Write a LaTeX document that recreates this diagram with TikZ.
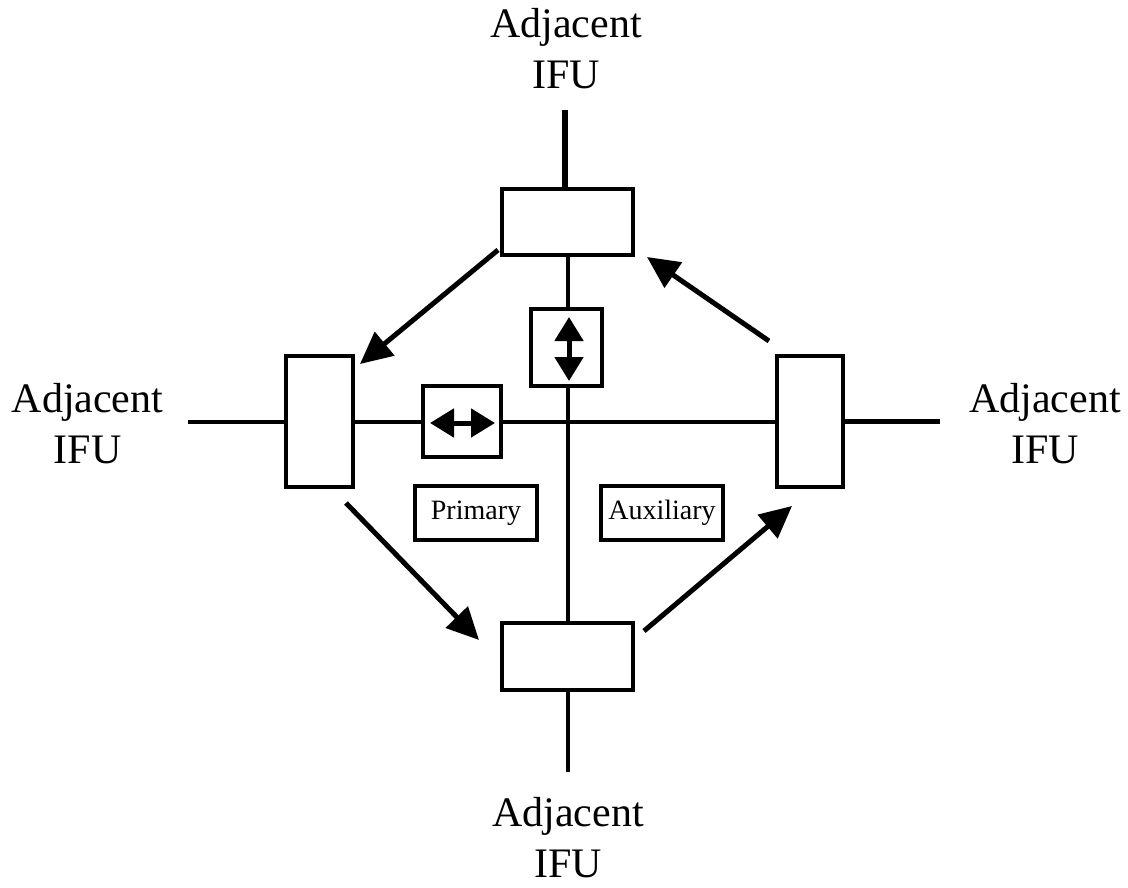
\documentclass[tikz,border=0pt]{standalone}
\usepackage{fontspec}
\setmainfont{Liberation Serif}
\usetikzlibrary{arrows.meta}
\begin{document}
\begin{tikzpicture}[x=1pt,y=-1pt,
  unitbox/.style={draw,line width=4pt,fill=white,inner sep=0pt},
  biglabel/.style={align=center,inner sep=0pt,font=\fontsize{42}{51}\selectfont},
  tag/.style={draw,line width=3.5pt,inner sep=0pt,minimum width=122pt,minimum height=54pt,
    font=\fontsize{28}{34}\selectfont},
  link/.style={line width=4pt},
  stub/.style={line width=5.5pt},
  flow/.style={line width=5pt,-{Triangle[length=32pt,width=30pt]}},
  swap/.style={line width=5pt,{Triangle[length=24pt,width=28pt]}-{Triangle[length=24pt,width=28pt]}}]
\useasboundingbox (0,0) rectangle (1128,888);

% switching units
\node[unitbox,minimum width=131pt,minimum height=66pt] (top) at (567.5,222) {};
\node[unitbox,minimum width=131pt,minimum height=67pt] (bot) at (567.5,656.5) {};
\node[unitbox,minimum width=67pt,minimum height=131pt] (lft) at (319.5,421.5) {};
\node[unitbox,minimum width=66pt,minimum height=131pt] (rgt) at (810,421.5) {};

% crossover boxes
\node[unitbox,minimum width=71pt,minimum height=77pt] (vx) at (566.5,347.5) {};
\node[unitbox,minimum width=78pt,minimum height=71pt] (hx) at (462,421.5) {};

% ring labels
\node[tag] (prim) at (476,513) {Primary};
\node[tag] (aux) at (662,513) {Auxiliary};

% outer stubs
\coordinate (tN) at (565,110);
\coordinate (bS) at (568,772);
\coordinate (lW) at (188,421.5);
\coordinate (rE) at (940,421.5);
\draw[stub] (tN) -- (top.north -| tN);
\draw[link] (bot.south -| bS) -- (bS);
\draw[link] (lW) -- (lft.west);
\draw[stub] (rgt.east) -- (rE);

% inner links
\draw[link] (top.south) -- (vx.north -| top.south);
\draw[link] (vx.south -| bot.north) -- (bot.north);
\draw[link] (lft.east) -- (hx.west);
\draw[link] (hx.east) -- (rgt.west);

% crossover arrows
\coordinate (vxa) at (569,317);
\coordinate (vxb) at (569,381);
\coordinate (hxa) at (430,423);
\coordinate (hxb) at (495,423);
\draw[swap] (vxa) -- (vxb);
\draw[swap] (hxa) -- (hxb);

% ring direction
\coordinate (a1s) at (498,250);
\coordinate (a1e) at (360,364);
\coordinate (a2s) at (769,341);
\coordinate (a2e) at (647,257);
\coordinate (a3s) at (346,503);
\coordinate (a3e) at (479,640);
\coordinate (a4s) at (644,631);
\coordinate (a4e) at (792,506);
\draw[flow] (a1s) -- (a1e);
\draw[flow] (a2s) -- (a2e);
\draw[flow] (a3s) -- (a3e);
\draw[flow] (a4s) -- (a4e);

% neighbour labels
\node[biglabel] (ntop) at (566,48.4) {Adjacent\\IFU};
\node[biglabel] (nbot) at (568,838) {Adjacent\\IFU};
\node[biglabel] (nlft) at (87.5,423.9) {Adjacent\\IFU};
\node[biglabel] (nrgt) at (1045,423.9) {Adjacent\\IFU};
\end{tikzpicture}
\end{document}
